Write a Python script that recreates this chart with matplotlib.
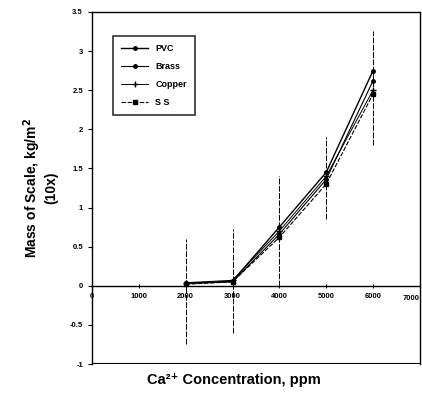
import matplotlib.pyplot as plt
import numpy as np

plt.rcParams['font.family'] = ['Liberation Sans', 'DejaVu Sans']
plt.rcParams['font.weight'] = 'bold'

conc = [2000, 3000, 4000, 5000, 6000]
pvc = [0.03, 0.06, 0.75, 1.45, 2.75]
brass = [0.03, 0.05, 0.66, 1.36, 2.62]
copper = [0.04, 0.07, 0.70, 1.40, 2.50]
ss = [0.02, 0.05, 0.62, 1.30, 2.45]
err_lo = [-0.75, -0.6, 0.0, 0.85, 1.8]
err_hi = [0.6, 0.72, 1.4, 1.9, 3.25]
xticks = [0, 1000, 2000, 3000, 4000, 5000, 6000, 7000]
yticks = [-1, -0.5, 0, 0.5, 1, 1.5, 2, 2.5, 3, 3.5]
ylabels = ['-1', '-0.5', '0', '0.5', '1', '1.5', '2', '2.5', '3', '3.5']

fig = plt.figure(figsize=(4.22, 3.97), dpi=100)
ax = fig.add_axes([0.218, 0.083, 0.777, 0.887])

ax.vlines(conc, err_lo, err_hi, color='black', lw=0.7, linestyles=(0, (6, 1.5)))

ax.plot(conc, pvc, color='black', lw=1.0, marker='o', ms=2.5, label='PVC')
ax.plot(conc, brass, color='black', lw=0.8, marker='o', ms=2.5, label='Brass')
ax.plot(conc, copper, color='black', lw=0.7, marker='+', ms=4, label='Copper')
ax.plot(conc, ss, color='black', lw=0.8, ls=(0, (4, 1.5)), marker='s', ms=3, label='S S')

ax.set_xlim(0, 7000)
ax.set_ylim(-1, 3.5)
ax.set_xticks(xticks)
ax.set_xticklabels([str(t) for t in xticks[:-1]] + [''])
# last label would be clipped at the figure edge, so right-align it
ax.text(xticks[-1], -0.115, str(xticks[-1]), ha='right', va='top', fontsize=5.5,
        fontweight='bold')
ax.set_yticks(yticks)
ax.set_yticklabels(ylabels)
ax.tick_params(axis='both', labelsize=5.5, width=0.8, length=3)
ax.tick_params(axis='x', direction='inout', pad=4)

ax.spines['bottom'].set_position(('data', 0))
ax.axhline(-1, color='black', lw=1.5)
for s in ax.spines.values():
    s.set_linewidth(1.0)

ax.set_ylabel('Mass of Scale, kg/m$^2$\n(10x)', fontsize=10, fontweight='bold', labelpad=8)
fig.text(0.555, 0.042, 'Ca²⁺ Concentration, ppm', ha='center', va='center',
         fontsize=10.5, fontweight='bold')

leg = ax.legend(loc='upper left', bbox_to_anchor=(0.05, 0.945), fontsize=6.5,
                frameon=True, fancybox=False, edgecolor='black', handlelength=3.0,
                labelspacing=1.0, borderpad=0.9)
leg.get_frame().set_linewidth(1.2)

fig.savefig('out.png', dpi=100)
